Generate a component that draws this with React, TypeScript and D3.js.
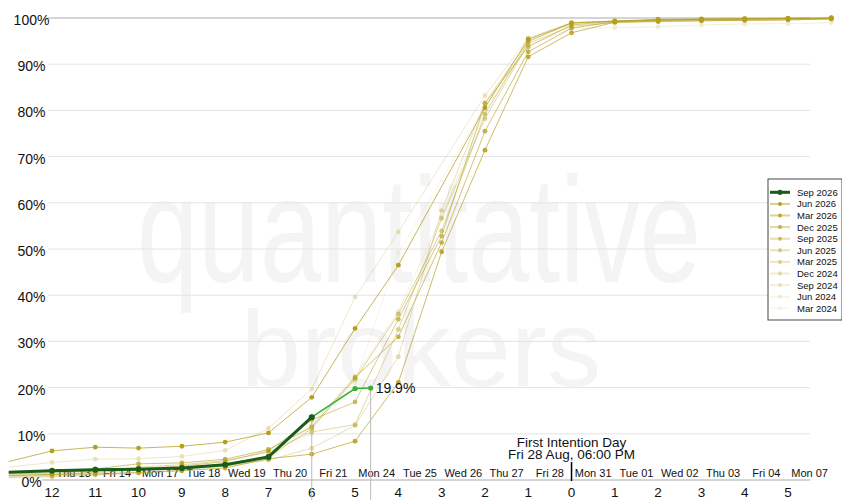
import * as d3 from "d3";

// business days relative to first intention day
const days = [-13, -12, -11, -10, -9, -8, -7, -6, -5, -4, -3, -2, -1, 0, 1, 2, 3, 4, 5, 6];

// % of open interest rolled, one array per past contract (null = no session)
const jun2026 = [4.0, 6.3, 7.1, 6.9, 7.3, 8.2, 10.2, 17.9, 32.8, 46.5, null, 80.6, 95.4, 98.9, 99.35, 99.7, 99.8, 99.85, 99.93, 100];
const mar2026 = [1.0, 1.2, 1.3, 1.6, 2.0, 2.6, 4.6, 5.6, 8.4, 21.1, 49.4, 71.4, 91.6, 96.8, 99.1, 99.3, 99.4, 99.5, 99.6, 99.8];
const dec2025 = [1.6, 2.0, 2.4, 3.5, 3.7, 4.5, 6.6, 11.5, 22.2, 31.0, 51.4, 75.5, 92.7, 97.8, 99.2, 99.5, 99.7, 99.8, 99.9, 100];
const sep2025 = [1.3, 1.5, 2.0, 2.5, 3.0, 4.0, 6.3, 13.0, 16.9, 34.8, 52.8, 81.5, 93.8, 98.5, 99.3, 99.6, 99.7, 99.8, 99.9, 100];
const jun2025 = [1.0, 1.2, 1.6, 2.2, 2.7, 3.5, 5.0, 11.1, 21.8, 35.9, 53.9, 79.2, 94.9, 99.0, 99.3, 99.6, 99.7, 99.8, 99.9, 100];
const mar2025 = [0.8, 1.0, 1.8, 2.8, 3.3, 4.2, 6.0, 10.4, 12.0, 32.6, 56.6, 78.2, 94.5, 98.2, 99.0, 99.2, 99.4, 99.5, 99.6, 99.8];
const dec2024 = [0.6, 0.8, 1.1, 1.5, 2.2, 3.0, 4.3, 6.9, 11.8, 26.7, 58.3, 81.7, 95.0, 98.8, 99.3, 99.5, 99.6, 99.7, 99.8, 99.9];
const sep2024 = [2.8, 3.8, 4.5, 4.6, 5.1, 6.4, 11.2, 19.7, 39.6, 53.7, null, 83.2, 95.7, 99.0, 99.3, 99.5, 99.6, 99.7, 99.8, 99.9];
const jun2024 = [0.5, 0.7, 1.3, 1.8, 2.5, 3.2, 4.5, 12.0, 22.5, 36.5, 57.0, 80.0, 94.0, 97.8, 97.9, 98.1, 98.5, 98.7, 98.8, 99.0];
const mar2024 = [0.4, 0.6, 1.0, 1.4, 2.0, 2.8, 4.6, 10.0, 21.0, 49.1, null, 81.0, 95.5, 98.5, 99.0, 99.2, 99.4, 99.5, 99.6, 99.7];

// current contract
const sep2026Days = [-13, -12, -11, -10, -9, -8, -7, -6];
const sep2026 = [1.7, 2.0, 2.2, 2.3, 2.6, 3.3, 5.0, 13.6];
const liveDays = [-6, -5, -4.64];
const liveValues = [13.6, 19.8, 19.9];

const pastNames = ["Jun 2026", "Mar 2026", "Dec 2025", "Sep 2025", "Jun 2025", "Mar 2025", "Dec 2024", "Sep 2024", "Jun 2024", "Mar 2024"];
const pastSeries = [jun2026, mar2026, dec2025, sep2025, jun2025, mar2025, dec2024, sep2024, jun2024, mar2024];
const pastOpacity = [1, 0.9, 0.8, 0.7, 0.6, 0.5, 0.4, 0.3, 0.2, 0.12];

const xTicks = [-12, -11, -10, -9, -8, -7, -6, -5, -4, -3, -2, -1, 0, 1, 2, 3, 4, 5];
const yTicks = [0, 10, 20, 30, 40, 50, 60, 70, 80, 90, 100];
const dayLabels = ["Thu 13", "Fri 14", "Mon 17", "Tue 18", "Wed 19", "Thu 20", "Fri 21", "Mon 24", "Tue 25", "Wed 26", "Thu 27", "Fri 28", "Mon 31", "Tue 01", "Wed 02", "Thu 03", "Fri 04", "Mon 07"];
const dayLabelPos = [-11.5, -10.5, -9.5, -8.5, -7.5, -6.5, -5.5, -4.5, -3.5, -2.5, -1.5, -0.5, 0.5, 1.5, 2.5, 3.5, 4.5, 5.5];

const W = 834;
const H = 492;
const FONT = "'Liberation Sans', Arial, sans-serif";
const OLIVE = "#b59f1c";
const DARK = "#1a5c1a";
const LIVE = "#36b036";

export default function App() {
  const x = d3.scaleLinear().domain([-12, 5]).range([44, 780]);
  const y = d3.scaleLinear().domain([0, 100]).range([472, 10]);
  const gridX0 = 40;
  const gridX1 = 802;

  const line = d3
    .line<[number, number]>()
    .x((d) => x(d[0]))
    .y((d) => y(d[1]));

  const pts = (ds: number[], vs: (number | null)[]) =>
    ds.map((d, i) => [d, vs[i]] as [number, number | null]).filter((p) => p[1] !== null) as [number, number][];

  const cur = pts(sep2026Days, sep2026);
  const live = pts(liveDays, liveValues);
  const lastLive = live[live.length - 1];

  const legendX = 760;
  const legendY = 171;
  const rowH = 11.6;
  const legendNames = ["Sep 2026", ...pastNames];

  return (
    <svg width={W} height={H} style={{ display: "block", fontFamily: FONT }}>
      {/* watermark */}
      <text x={411} y={274} textAnchor="middle" fontSize={150} fill="#f4f4f4" textLength={564} lengthAdjust="spacingAndGlyphs">
        quantitative
      </text>
      <text x={413} y={378} textAnchor="middle" fontSize={108} fill="#f4f4f4" textLength={360} lengthAdjust="spacingAndGlyphs">
        brokers
      </text>

      {/* grid */}
      {yTicks.map((t) => (
        <line key={t} x1={t === 0 ? 34 : gridX0} x2={gridX1} y1={y(t)} y2={y(t)} stroke={t === 0 || t === 100 ? "#aaa" : "#e4e4e4"} strokeWidth={1} />
      ))}
      {yTicks.map((t) => (
        <text key={t} x={23.5} y={y(t) + 7} textAnchor="middle" fontSize={14} fill="#111">
          {t}%
        </text>
      ))}

      {/* x axis labels */}
      {xTicks.map((t) => (
        <text key={t} x={x(t)} y={489} textAnchor="middle" fontSize={13.5} fill="#111">
          {Math.abs(t)}
        </text>
      ))}
      {dayLabels.map((l, i) => (
        <text key={l} x={x(dayLabelPos[i])} y={468.5} textAnchor="middle" fontSize={11} fill="#111">
          {l}
        </text>
      ))}

      {/* first intention day marker */}
      <line x1={x(0)} x2={x(0)} y1={454} y2={473} stroke="#000" strokeWidth={1.5} />
      <text x={x(0)} y={438.5} textAnchor="middle" fontSize={13.5} fill="#111">
        First Intention Day
      </text>
      <text x={x(0)} y={450.5} textAnchor="middle" fontSize={13.5} fill="#111">
        Fri 28 Aug, 06:00 PM
      </text>

      {/* past contracts, oldest first */}
      {pastSeries
        .map((s, i) => ({ s, i }))
        .reverse()
        .map(({ s, i }) => {
          const p = pts(days, s);
          return (
            <g key={pastNames[i]} opacity={pastOpacity[i]}>
              <path d={line(p) ?? ""} fill="none" stroke={OLIVE} strokeWidth={1} strokeOpacity={0.75} />
              {p
                .filter((d) => d[0] >= -12)
                .map((d) => (
                  <circle key={d[0]} cx={x(d[0])} cy={y(d[1])} r={2.4} fill={OLIVE} />
                ))}
            </g>
          );
        })}

      {/* current contract */}
      <line x1={x(-6)} x2={x(-6)} y1={y(13.6)} y2={H} stroke="#bbb" strokeWidth={1} />
      <line x1={x(lastLive[0])} x2={x(lastLive[0])} y1={y(lastLive[1])} y2={H} stroke="#bbb" strokeWidth={1} />
      <path d={line(live) ?? ""} fill="none" stroke={LIVE} strokeWidth={1.5} />
      {live.map((d) => (
        <circle key={d[0]} cx={x(d[0])} cy={y(d[1])} r={2.6} fill={LIVE} />
      ))}
      <path d={line(cur) ?? ""} fill="none" stroke={DARK} strokeWidth={3} />
      {cur
        .filter((d) => d[0] >= -12)
        .map((d) => (
          <circle key={d[0]} cx={x(d[0])} cy={y(d[1])} r={3} fill={DARK} />
        ))}
      <text x={x(lastLive[0]) + 5} y={y(lastLive[1]) + 5} fontSize={14} fill="#111">
        {lastLive[1].toFixed(1)}%
      </text>

      {/* legend */}
      <rect x={legendX} y={legendY} width={74} height={141} fill="#fff" stroke="#444" strokeWidth={1} />
      {legendNames.map((n, i) => {
        const cy = legendY + 13.3 + i * rowH;
        const first = i === 0;
        const op = first ? 1 : pastOpacity[i - 1];
        const c = first ? DARK : OLIVE;
        return (
          <g key={n}>
            <g opacity={op}>
              <line x1={legendX + 2} x2={legendX + 22} y1={cy} y2={cy} stroke={c} strokeWidth={first ? 3 : 2} strokeOpacity={first ? 1 : 0.5} />
              <circle cx={legendX + 12} cy={cy} r={first ? 2.6 : 2} fill={c} />
            </g>
            <text x={legendX + 29} y={cy + 3.5} fontSize={9.5} fill="#111">
              {n}
            </text>
          </g>
        );
      })}
    </svg>
  );
}
